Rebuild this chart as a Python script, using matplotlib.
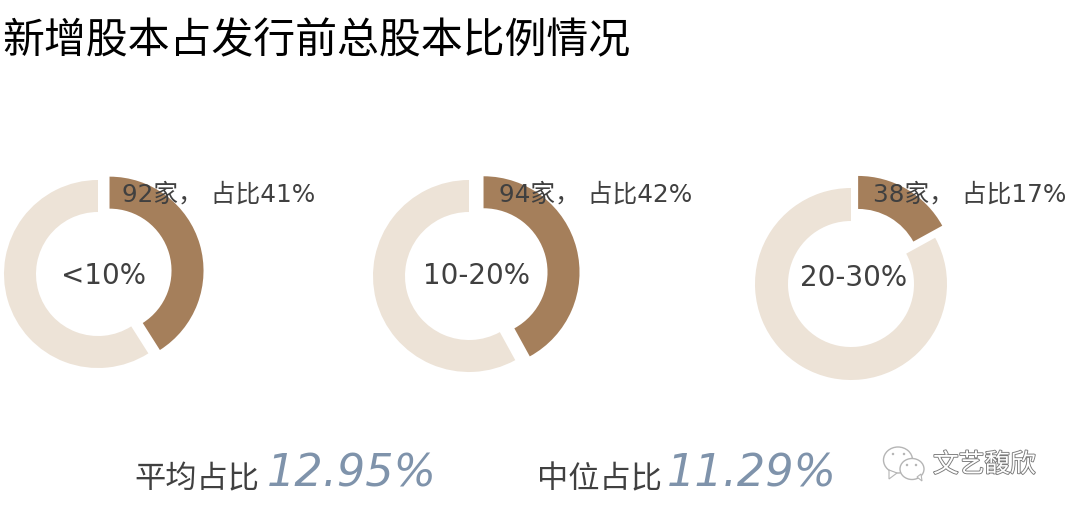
import matplotlib
matplotlib.use("Agg")
import matplotlib.pyplot as plt
import matplotlib.patheffects as pe
from matplotlib.patches import Ellipse, Polygon

# 数字はDejaVu、漢字はNotoで描く
plt.rcParams['font.family'] = ['DejaVu Sans', 'Noto Sans CJK SC']

# データ
ranges = ["<10%", "10-20%", "20-30%"]
counts = [92, 94, 38]
shares = [41, 42, 17]
stat_names = ["平均占比", "中位占比"]
stat_values = ["12.95%", "11.29%"]

DARK = "#A57F5B"
LIGHT = "#EDE3D7"
TEXT = "#404040"
BLUE = "#7F93AB"

W, H = 1070, 512
fig = plt.figure(figsize=(W / 100, H / 100), dpi=100)
ax = fig.add_axes([0, 0, 1, 1])


def py(y):
    # 画像のy座標(上から)を軸のyに変換
    return H - y


# 円の位置 (cx, cy, r, 幅, 爆発量)
donuts = [(98, 274, 94, 32, 12), (469, 276, 96, 32, 15), (851, 284, 96, 33, 14)]
label_pos = [(219, 195), (596, 195), (970, 195)]
center_pos = [(103, 276), (476, 276), (854, 278)]

for i, (cx, cy, r, w, d) in enumerate(donuts):
    ax.pie([shares[i], 100 - shares[i]], colors=[DARK, LIGHT], startangle=90,
           counterclock=False, explode=[d, 0], center=(cx, py(cy)), radius=r,
           wedgeprops={'width': w, 'linewidth': 0}, frame=True)
    ax.text(label_pos[i][0], py(label_pos[i][1]), f"{counts[i]}家， 占比{shares[i]}%",
            fontsize=17.8, color=TEXT, ha='center', va='center')
    ax.text(center_pos[i][0], py(center_pos[i][1]), ranges[i],
            fontsize=20, color=TEXT, ha='center', va='center')

ax.text(2, py(42), "新增股本占发行前总股本比例情况", fontsize=30.2, color="black",
        ha='left', va='center', family='Noto Sans CJK SC')

# 下の統計
for name, value, x1, x2 in zip(stat_names, stat_values, [197, 599], [352, 752]):
    ax.text(x1, py(479), name, fontsize=22.5, color=TEXT, ha='center', va='center',
            family='Noto Sans CJK SC')
    ax.text(x2, py(474), value, fontsize=32, color=BLUE, style='italic',
            family='DejaVu Sans', ha='center', va='center')

# ウォーターマーク
gray = "#B5B5B5"
for (ex, ey, ew, eh) in [(898, 460, 29, 26), (912, 469, 24, 21)]:
    ax.add_patch(Ellipse((ex, py(ey)), ew, eh, fc="white", ec=gray, lw=1))
ax.add_patch(Polygon([(889, py(470)), (889, py(479)), (897, py(473))], fc="white", ec=gray, lw=0.8))
ax.add_patch(Polygon([(917, py(477)), (922, py(481)), (921, py(474))], fc="white", ec=gray, lw=0.8))
for ex, ey in [(893, 454), (904, 454), (907, 465), (916, 465)]:
    ax.add_patch(Ellipse((ex, py(ey)), 2.5, 2.5, fc=gray, ec="none"))
ax.text(984.5, py(465), "文艺馥欣", fontsize=18.5, color="white", ha='center', va='center',
        family='Noto Sans CJK SC',
        path_effects=[pe.withStroke(linewidth=1.3, foreground="#7A7A7A")])

ax.set_xlim(0, W)
ax.set_ylim(0, H)
ax.set_aspect('equal')
ax.axis('off')

fig.savefig("out.png", dpi=100)
